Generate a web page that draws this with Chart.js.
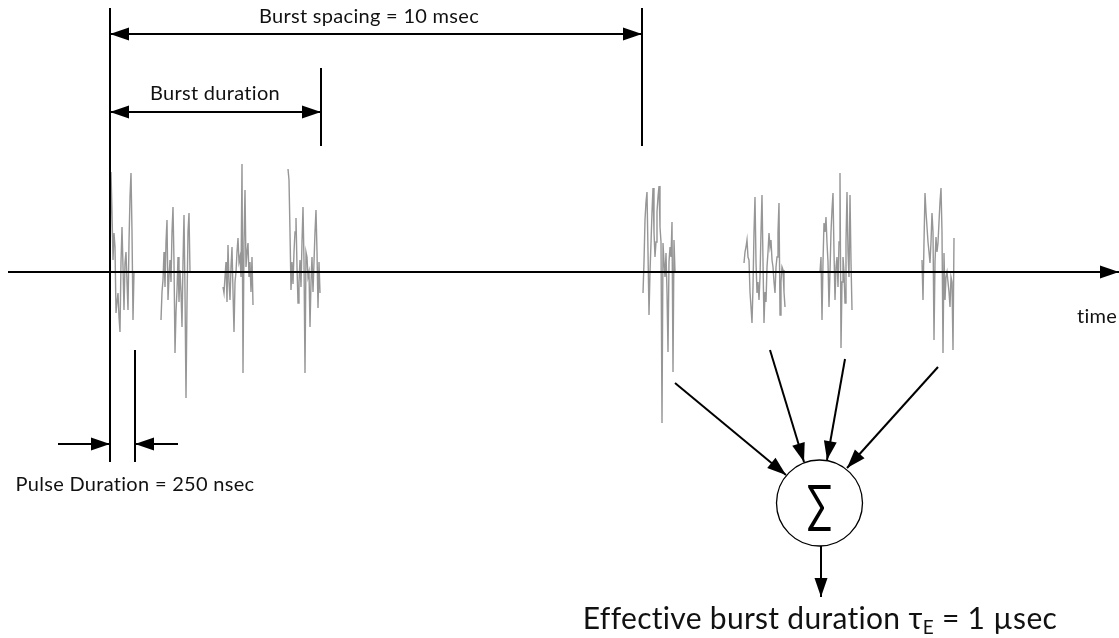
<!DOCTYPE html>
<html>
<head>
<meta charset="utf-8">
<script src="https://cdn.jsdelivr.net/npm/chart.js@4.4.1/dist/chart.umd.min.js"></script>
<style>
  html, body { margin: 0; padding: 0; background: #fff; }
  canvas { display: block; }
</style>
</head>
<body>
<canvas id="burst-chart" width="1119" height="638"></canvas>
<script>
// time of first sample of each pulse, and sample spacing
const pulseStart = [110, 161, 223, 288, 643, 744, 820, 922];
const sampleStep = 1;

// amplitudes, one array per pulse
const pulse1 = [0, 100, 60, 12, 39, 25, -41, -30, -21, -45, -60, 10, 45, 5, -38, 9, 20, -10, -38, 30, 75, 99, 40, -48, 0];
const pulse2 = [-48, -20, -8, 20, -15, 30, 52, -28, -5, 12, -10, 40, 65, 10, -81, -40, -18, 15, -30, 2, -20, -55, 10, 57, -20, -126, -30, 40, 59, 0];
const pulse3 = [-15, -21, -5, 10, -30, 27, -10, -28, 5, 25, -20, -60, -10, 0, 20, 34, 10, 15, -5, 108, -101, 30, 82, 5, 20, 29, -5, 10, -20, 15, -33];
const pulse4 = [103, 92, 40, -18, 10, -12, 20, 40, 54, 5, -31, -10, 12, -15, 30, 65, 10, -101, 20, 15, -5, 0, -55, -10, 15, -20, 10, 40, 62, 20, -36, 10, -21];
const pulse5 = [-21, 10, 52, 70, 80, 20, -43, 0, 29, 60, 84, 40, 15, 30, 60, 75, 86, 45, 30, -151, 29, 10, -5, 19, -20, -80, 10, 25, 15, 50, -100, 32, 0];
const pulse6 = [9, 20, 25, 32, 15, 12, -20, -35, -51, -15, 40, 75, 10, -21, -10, -28, -5, 40, 77, 10, -51, -20, -30, 5, 20, 39, 25, 32, 12, 5, -10, -21, 5, 15, 40, 69, -43, -10, 5, 2, -20, -35];
const pulse7 = [0, 15, -48, 10, 49, 40, 55, 29, 10, -35, 0, 40, 62, 79, 20, -28, 5, 15, -15, 30, 99, -76, -10, 15, 0, -31, 30, 80, 20, -5, 77, 10, -38];
const pulse8 = [12, -28, 30, 79, 60, 45, 30, 20, 9, 30, 59, 40, -68, 10, 35, 20, 29, 50, 70, 84, 40, -81, 19, -28, -5, 0, -10, -20, -35, -5, -10, -78, 34];
const pulses = [pulse1, pulse2, pulse3, pulse4, pulse5, pulse6, pulse7, pulse8];

// diagram furniture, in the same (time, amplitude) units as the data
const markerLines = [
    [110, 264, 110, -190],
    [135, -78, 135, -190],
    [321, 204, 321, 126],
    [642, 264, 642, 126]
];
const arrows = [
    { from: [8, 0], to: [1119, 0] },
    { from: [110, 238], to: [642, 238], both: true },
    { from: [110, 160], to: [321, 160], both: true },
    { from: [58, -172], to: [110, -172] },
    { from: [178, -172], to: [135, -172] },
    { from: [675, -111], to: [786, -203] },
    { from: [770, -78], to: [804, -190] },
    { from: [845, -87], to: [827, -188] },
    { from: [938, -95], to: [847, -196] },
    { from: [821, -274], to: [821, -325] }
];
const labels = [
    { text: "Burst spacing = 10 msec", at: [369, 255], size: 20 },
    { text: "Burst duration", at: [215, 178], size: 20 },
    { text: "Pulse Duration = 250 nsec", at: [135, -213], size: 20 },
    { text: "time", at: [1097, -45], size: 20 }
];
const sumNode = { at: [819.5, -231], r: 43 };

const diagramPlugin = {
    id: "diagram",
    afterDatasetsDraw(chart) {
        const ctx = chart.ctx;
        const sx = chart.scales.x, sy = chart.scales.y;
        const X = v => sx.getPixelForValue(v);
        const Y = v => sy.getPixelForValue(v);

        ctx.save();
        ctx.strokeStyle = "#000";
        ctx.fillStyle = "#000";
        ctx.lineWidth = 2;

        markerLines.forEach(l => {
            ctx.beginPath();
            ctx.moveTo(X(l[0]), Y(l[1]));
            ctx.lineTo(X(l[2]), Y(l[3]));
            ctx.stroke();
        });

        function head(x0, y0, x1, y1) {
            const a = Math.atan2(y1 - y0, x1 - x0);
            const len = 19, half = 6.5;
            ctx.beginPath();
            ctx.moveTo(x1, y1);
            ctx.lineTo(x1 - len * Math.cos(a) + half * Math.sin(a), y1 - len * Math.sin(a) - half * Math.cos(a));
            ctx.lineTo(x1 - len * Math.cos(a) - half * Math.sin(a), y1 - len * Math.sin(a) + half * Math.cos(a));
            ctx.closePath();
            ctx.fill();
        }

        arrows.forEach(a => {
            const x0 = X(a.from[0]), y0 = Y(a.from[1]);
            const x1 = X(a.to[0]), y1 = Y(a.to[1]);
            ctx.beginPath();
            ctx.moveTo(x0, y0);
            ctx.lineTo(x1, y1);
            ctx.stroke();
            head(x0, y0, x1, y1);
            if (a.both) head(x1, y1, x0, y0);
        });

        // summing node
        const cx = X(sumNode.at[0]), cy = Y(sumNode.at[1]);
        const r = X(sumNode.at[0] + sumNode.r) - cx;
        ctx.lineWidth = 1.3;
        ctx.beginPath();
        ctx.arc(cx, cy, r, 0, Math.PI * 2);
        ctx.stroke();
        ctx.save();
        ctx.translate(cx, cy);
        ctx.scale(0.72, 1);
        ctx.font = "52px Lato";
        ctx.textAlign = "center";
        ctx.textBaseline = "middle";
        ctx.fillText("\u2211", 0, 2);
        ctx.restore();

        // small spacing keeps Lato from joining "ti"
        ctx.letterSpacing = "0.3px";
        ctx.textAlign = "center";
        ctx.textBaseline = "middle";
        ctx.fillStyle = "#111";
        labels.forEach(l => {
            ctx.font = l.size + "px Lato";
            ctx.fillText(l.text, X(l.at[0]), Y(l.at[1]));
        });

        // effective burst duration, with subscript
        const partA = "Effective burst duration \u03C4", sub = "E", partB = " = 1 \u00B5sec";
        ctx.textBaseline = "alphabetic";
        ctx.font = "30px Lato";
        const wA = ctx.measureText(partA).width, wB = ctx.measureText(partB).width;
        ctx.font = "19px Lato";
        const wS = ctx.measureText(sub).width;
        let x = X(820) - (wA + wS + wB) / 2;
        const base = Y(-357);
        ctx.textAlign = "left";
        ctx.font = "30px Lato";
        ctx.fillText(partA, x, base);
        x += wA;
        ctx.font = "19px Lato";
        ctx.fillText(sub, x, base + 5);
        x += wS;
        ctx.font = "30px Lato";
        ctx.fillText(partB, x, base);
        ctx.restore();
    }
};

const ctx = document.getElementById("burst-chart").getContext("2d");
new Chart(ctx, {
    type: "line",
    data: {
        datasets: pulses.map((amps, k) => ({
            data: amps.map((a, i) => ({ x: pulseStart[k] + i * sampleStep, y: a })),
            borderColor: "rgba(80,80,80,0.6)",
            borderWidth: 1.4,
            pointRadius: 0,
            tension: 0,
            fill: false
        }))
    },
    options: {
        responsive: false,
        animation: false,
        layout: { padding: 0 },
        plugins: {
            legend: { display: false },
            tooltip: { enabled: false }
        },
        scales: {
            x: { type: "linear", min: 0, max: 1119, display: false },
            y: { type: "linear", min: -366, max: 272, display: false }
        }
    },
    plugins: [diagramPlugin]
});
</script>
</body>
</html>
